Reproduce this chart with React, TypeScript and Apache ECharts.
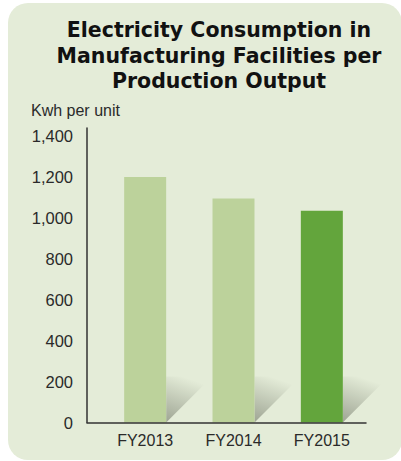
import React, { useEffect, useRef } from "react";
import * as echarts from "echarts";

const titleLines = ["Electricity Consumption in", "Manufacturing Facilities per", "Production Output"];
const unitLabel = "Kwh per unit";
const categories = ["FY2013", "FY2014", "FY2015"];
const values = [1200, 1095, 1035];
const barColors = ["#bcd29b", "#bcd29b", "#63a53c"];

const SANS = "'Liberation Sans', Arial, Helvetica, sans-serif";

export default function App() {
  const ref = useRef<HTMLDivElement>(null);
  useEffect(() => {
    if (!ref.current) return;
    const chart = echarts.init(ref.current, null, { renderer: "svg" });
    const top = 128;
    const bottom = 38.5;
    chart.setOption({
      animation: false,
      graphic: [
        {
          type: "rect",
          z: -10,
          silent: true,
          shape: { x: 8, y: 3, width: 394, height: 457, r: 20 },
          style: { fill: "#e4ecd8" },
        },
      ],
      title: [
        {
          text: titleLines.join("\n"),
          left: 219,
          top: 17.5,
          textAlign: "center",
          padding: 0,
          textStyle: {
            fontFamily: "'DejaVu Sans', sans-serif",
            fontWeight: "bold",
            fontSize: 20.5,
            lineHeight: 25.5,
            color: "#111",
          },
        },
        {
          text: unitLabel,
          left: 31,
          top: 102,
          padding: 0,
          textStyle: {
            fontFamily: SANS,
            fontWeight: "normal",
            fontSize: 16,
            color: "#2a2a2a",
          },
        },
      ],
      grid: [
        { left: 87, right: 35, top, bottom },
        { left: 101, right: 35, top, bottom },
      ],
      xAxis: [
        {
          type: "value",
          gridIndex: 0,
          min: 0,
          max: 1,
          z: 5,
          axisLine: { show: true, lineStyle: { color: "#333", width: 1.5 } },
          axisTick: { show: false },
          axisLabel: { show: false },
          splitLine: { show: false },
        },
        {
          type: "category",
          gridIndex: 1,
          data: categories,
          axisLine: { show: false },
          axisTick: { show: false },
          axisLabel: {
            margin: 9.5,
            fontFamily: SANS,
            fontSize: 16,
            color: "#2a2a2a",
          },
        },
      ],
      yAxis: [
        {
          type: "value",
          gridIndex: 0,
          min: 0,
          max: 1440,
          interval: 200,
          z: 5,
          axisLine: { show: true, lineStyle: { color: "#333", width: 1.5 } },
          axisTick: { show: false },
          splitLine: { show: false },
          axisLabel: {
            showMaxLabel: false,
            margin: 14,
            fontFamily: SANS,
            fontSize: 16.5,
            color: "#2a2a2a",
            formatter: (v: number) => v.toLocaleString("en-US"),
          },
        },
        {
          type: "value",
          gridIndex: 1,
          min: 0,
          max: 1440,
          show: false,
          splitLine: { show: false },
        },
      ],
      series: [
        {
          type: "custom",
          xAxisIndex: 1,
          yAxisIndex: 1,
          z: 1,
          silent: true,
          data: values.map((v, i) => [i, v]),
          renderItem: (params: any, api: any) => {
            const p = api.coord([api.value(0), 0]);
            const x = p[0] + 21;
            const y = p[1];
            const s = 46;
            return {
              type: "polygon",
              shape: { points: [[x, y], [x, y - s], [x + s, y - s]] },
              style: {
                fill: {
                  type: "linear",
                  x: 0,
                  y: 1,
                  x2: 0.35,
                  y2: 0,
                  colorStops: [
                    { offset: 0, color: "rgba(120,126,110,0.65)" },
                    { offset: 1, color: "rgba(120,126,110,0)" },
                  ],
                },
              },
            };
          },
        },
        {
          type: "bar",
          xAxisIndex: 1,
          yAxisIndex: 1,
          z: 2,
          barWidth: 42,
          data: values.map((v, i) => ({ value: v, itemStyle: { color: barColors[i] } })),
        },
      ],
    });
    return () => chart.dispose();
  }, []);
  return (
    <div
      ref={ref}
      style={{ position: "fixed", left: 0, top: 0, width: 401, height: 461, background: "#fff" }}
    />
  );
}
